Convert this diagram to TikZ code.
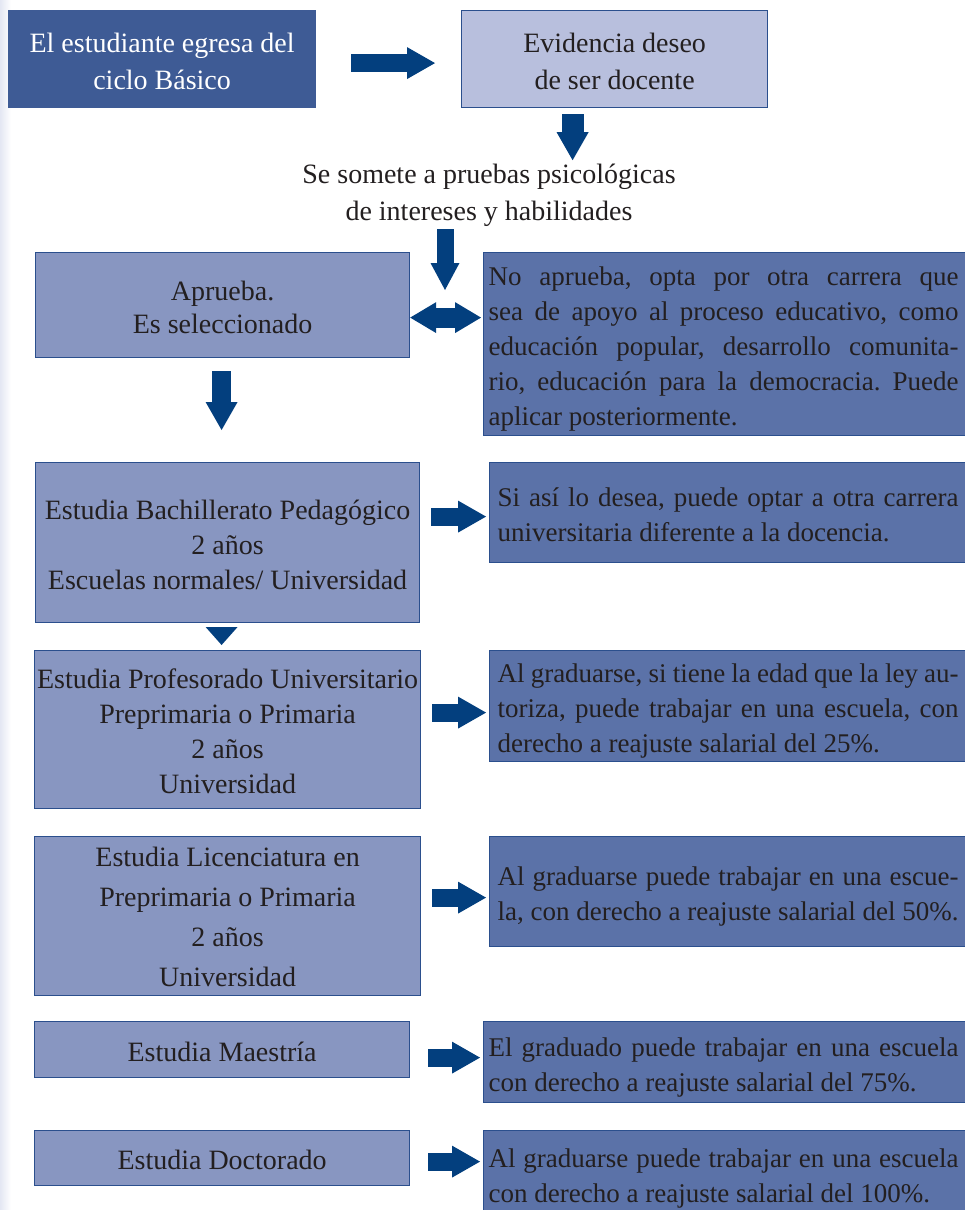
\documentclass[tikz,border=0pt]{standalone}
\usepackage{fontspec}
\setmainfont{Liberation Serif}
\usetikzlibrary{arrows.meta,calc}
\setlength\parindent{0pt}
\frenchspacing

\definecolor{boxdark}{HTML}{3E5B95}
\definecolor{boxpale}{HTML}{B8BFDD}
\definecolor{boxmid}{HTML}{8896C1}
\definecolor{boxnote}{HTML}{5B72A8}
\definecolor{edge}{HTML}{2B4F8D}
\definecolor{arrowblue}{HTML}{033F7E}
\definecolor{ink}{HTML}{231F20}
\definecolor{strip}{HTML}{E4E7F3}

% fixed line struts so that every box centres its text the same way
\newcommand\topstrut{\rule{0pt}{30pt}}
\newcommand\lowtopstrut{\rule{0pt}{28pt}}
\newcommand\botstrut{\rule[-7pt]{0pt}{7pt}}
% natural, stretchable word spaces for the side notes
\newcommand\natspace{\spaceskip=0pt\xspaceskip=0pt\frenchspacing}
% justified lines of the side notes
\newcommand\justA[1]{\makebox[470pt][s]{#1}}
\newcommand\justB[1]{\makebox[461pt][s]{#1}}

\tikzset{
  basebox/.style={draw=edge, line width=1.2pt, rectangle, anchor=north west,
    inner sep=2pt, font=\fontsize{28}{35}\selectfont, text=ink},
  startbox/.style={basebox, draw=boxdark, fill=boxdark, text=white, align=center},
  palebox/.style={basebox, fill=boxpale, align=center},
  stagebox/.style={basebox, fill=boxmid, align=center},
  notewide/.style={basebox, fill=boxnote, align=left, inner xsep=5pt,
    text width=475pt, font=\fontsize{27}{35}\selectfont},
  notenarrow/.style={basebox, fill=boxnote, align=left, inner xsep=8pt,
    text width=463pt, font=\fontsize{27}{35}\selectfont},
  barrow/.style={draw=arrowblue, line width=18pt,
    -{Triangle[width=32pt,length=28pt,line width=0pt]}},
  dblarrow/.style={draw=arrowblue, line width=20pt,
    {Triangle[width=31pt,length=26pt,line width=0pt]}-{Triangle[width=31pt,length=26pt,line width=0pt]}},
  notch/.style={draw=arrowblue, line width=0.4pt,
    -{Triangle[width=32pt,length=18pt,line width=0pt]}},
}

\begin{document}
\begin{tikzpicture}[x=1pt, y=-1pt]
\useasboundingbox (0,0) rectangle (965,1210);
\clip (0,0) rectangle (965,1210);
\fill[white] (0,0) rectangle (965,1210);
\shade[left color=strip, right color=white] (0,0) rectangle (11,1210);

% top row
\node[startbox, minimum width=307pt, minimum height=97pt] (b1) at (8,10)
  {\topstrut El estudiante egresa del\\[2pt]ciclo Básico\botstrut};
\node[palebox, minimum width=306pt, minimum height=97pt] (b2) at (461,10)
  {\topstrut Evidencia deseo\\[2pt]de ser docente\botstrut};
\node[align=center, inner sep=2pt, font=\fontsize{28}{35}\selectfont, text=ink] (t) at (489,190)
  {\topstrut Se somete a pruebas psicológicas\\[2pt]de intereses y habilidades\botstrut};

% left column: stages of study
\node[stagebox, minimum width=374pt, minimum height=105pt] (b3) at (35,252)
  {\topstrut Aprueba.\\[-2pt]Es seleccionado\botstrut};
\node[stagebox, minimum width=384pt, minimum height=160pt] (b5) at (35,462)
  {\topstrut Estudia Bachillerato Pedagógico\\2 años\\Escuelas normales/ Universidad\botstrut};
\node[stagebox, minimum width=386pt, minimum height=158pt] (b7) at (34,650)
  {\topstrut Estudia Profesorado Universitario\\Preprimaria o Primaria\\2 años\\Universidad\botstrut};
\node[stagebox, minimum width=386pt, minimum height=159pt] (b9) at (34,836)
  {\lowtopstrut Estudia Licenciatura en\\[5pt]Preprimaria o Primaria\\[5pt]2 años\\[5pt]Universidad\botstrut};
\node[stagebox, minimum width=375pt, minimum height=56pt] (b11) at (34,1021)
  {\topstrut Estudia Maestría\botstrut};
\node[stagebox, minimum width=375pt, minimum height=55pt] (b13) at (34,1130)
  {\topstrut Estudia Doctorado\botstrut};

% right column: outcomes
\node[notewide, minimum height=183pt] (b4) at (483,252)
  {\natspace\topstrut\justA{No aprueba, opta por otra carrera que}\\
   \justA{sea de apoyo al proceso educativo, como}\\
   \justA{educación popular, desarrollo comunita-}\\
   \justA{rio, educación para la democracia. Puede}\\
   \mbox{aplicar posteriormente.}\botstrut};
\node[notenarrow, minimum height=100pt] (b6) at (489,462)
  {\natspace\topstrut\justB{Si así lo desea, puede optar a otra carrera}\\
   \mbox{universitaria diferente a la docencia.}\botstrut};
\node[notenarrow, minimum height=110pt] (b8) at (489,650)
  {\natspace\topstrut\justB{Al graduarse, si tiene la edad que la ley au-}\\
   \justB{toriza, puede trabajar en una escuela, con}\\
   \mbox{derecho a reajuste salarial del 25\%.}\botstrut};
\node[notenarrow, minimum height=110pt] (b10) at (489,836)
  {\natspace\topstrut\justB{Al graduarse puede trabajar en una escue-}\\
   \mbox{la, con derecho a reajuste salarial del 50\%.}\botstrut};
\node[notewide, minimum height=81pt] (b12) at (483,1021)
  {\natspace\topstrut\justA{El graduado puede trabajar en una escuela}\\
   \mbox{con derecho a reajuste salarial del 75\%.}\botstrut};
\node[notewide, minimum height=85pt] (b14) at (483,1130)
  {\natspace\topstrut\justA{Al graduarse puede trabajar en una escuela}\\
   \mbox{con derecho a reajuste salarial del 100\%.}\botstrut};

% connectors
\coordinate (dj) at (445,290);
\draw[barrow] ($(b1.east)+(35,4)$) -- ($(b2.west)+(-26,4)$);
\draw[barrow, line width=22pt] ($(b2.south)+(-42,6)$) -- ($(b2.south)+(-42,52)$);
\draw[barrow, line width=17pt, -{Triangle[width=29pt,length=27pt,line width=0pt]}]
  (t.south -| dj) -- (dj);
\draw[dblarrow] ($(b3.east)+(0,12.5)$) -- ($(b3.east -| b4.west)+(-2,12.5)$);
\draw[barrow, line width=19pt] ($(b3.south)+(-1,13)$) -- ($(b5.north)+(-6,-32)$);
\draw[notch] ($(b5.south)+(-6,5)$) -- ($(b7.north)+(-6,-5)$);
\draw[barrow] ($(b5.east)+(11,-26)$) coordinate (s5) -- ($(b6.west |- s5)+(-3,0)$);
\draw[barrow] ($(b7.east)+(11,-17)$) coordinate (s7) -- ($(b8.west |- s7)+(-3,0)$);
\draw[barrow] ($(b9.east)+(11,-18.5)$) coordinate (s9) -- ($(b10.west |- s9)+(-3,0)$);
\draw[barrow] ($(b11.east)+(18,8)$) coordinate (s11) -- ($(b12.west |- s11)+(-3,0)$);
\draw[barrow] ($(b13.east)+(18,3.5)$) coordinate (s13) -- ($(b14.west |- s13)+(-3,0)$);
\end{tikzpicture}
\end{document}
